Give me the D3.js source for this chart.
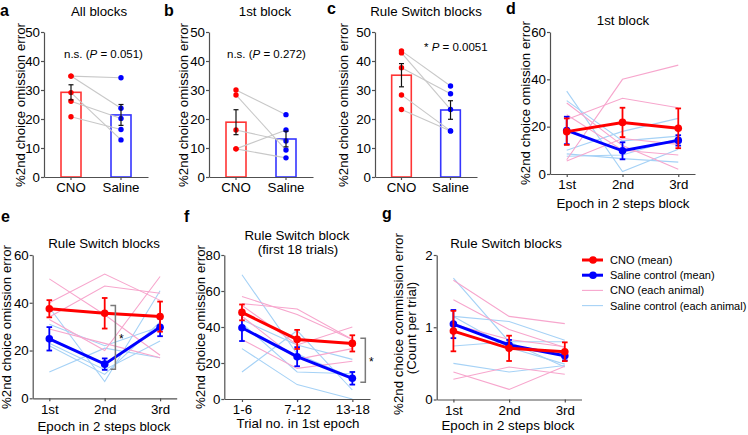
<!DOCTYPE html>
<html><head><meta charset="utf-8">
<script src="https://cdn.jsdelivr.net/npm/d3@7"></script>
<style>
body{margin:0;background:#fff;}
svg text{font-family:"Liberation Sans",Arial,Helvetica,sans-serif;fill:#000;}
</style></head><body>
<svg id="c" width="748" height="435"></svg>
<script>
// ---------------- DATA ----------------
const barCats = ["CNO", "Saline"];
const barTicks = [0, 10, 20, 30, 40, 50];
// panel a (All blocks) — paired animals, index i = same animal
const aCNO = [34.8, 34.8, 29.1, 26.1, 20.8];
const aSal = [34.2, 23.7, 12.8, 20.2, 16.4];
const aMean = [29.2, 21.4];
const aSem = [2.6, 3.6];
// panel b (1st block)
const bCNO = [30.0, 28.3, 16.2, 9.7, 9.7];
const bSal = [21.5, 9.3, 12.4, 16.2, 6.6];
const bMean = [18.9, 13.1];
const bSem = [4.3, 2.7];
// panel c (Rule Switch blocks)
const cCNO = [43.5, 42.8, 37.7, 28.3, 23.3];
const cSal = [31.4, 23.3, 28.7, 15.9, 15.9];
const cMean = [35.1, 23.1];
const cSem = [4.0, 3.2];

const epochCats = ["1st", "2nd", "3rd"];
const trialCats = ["1-6", "7-12", "13-18"];
const omTicks60 = [0, 20, 40, 60];
const omTicks80 = [0, 20, 40, 60, 80];
const comTicks = [0, 1, 2];

// panel d (1st block)
const dCnoInd = [[6, 40, 46], [23, 32, 28], [30, 12, 2], [25, 10, 8], [5.5, 15, 12.5]];
const dSalInd = [[35, 1, 10.5], [31, 14, 16], [10, 18, 23.5], [8.5, 6.5, 5], [7.5, 8, 15]];
const dCnoMean = [17.9, 21.8, 19.3], dCnoSem = [5.6, 6.2, 8.4];
const dSalMean = [18.4, 9.8, 14.2], dSalSem = [5.8, 3.6, 2.2];
// panel e (Rule Switch blocks)
const eCnoInd = [[50, 35, 18], [40, 52, 41], [34, 47, 44], [29, 23, 17], [33, 20, 51]];
const eSalInd = [[11, 21, 17], [38, 7, 45], [31, 22, 30], [23, 12, 24], [22, 10, 32]];
const eCnoMean = [37.5, 35.6, 34.2], eCnoSem = [3.6, 6.4, 6.3];
const eSalMean = [24.9, 14.3, 29.7], eSalSem = [4.9, 2.4, 3.7];
const eBracket = [38.9, 12.2];
// panel f (Rule Switch block, first 18 trials)
const fCnoInd = [[57, 47, 33], [53, 50, 33], [52, 30, 40], [46, 22, 28], [33, 17, 21]];
const fSalInd = [[69, 25, 12], [15, 38, 5], [28, 8, 0], [44, 30, 22], [42, 15, 14]];
const fCnoMean = [48.1, 33.1, 30.9], fCnoSem = [4.4, 5.3, 4.5];
const fSalMean = [39.6, 23.5, 11.5], fSalSem = [7.4, 5.3, 3.5];
const fBracket = [33.7, 9.3];
// panel g (commission error)
const gCnoInd = [[1.65, 1.15, 1.05], [1.38, 0.97, 0.72], [0.38, 0.14, 0.46], [0.28, 0.45, 0.35], [1.04, 0.83, 0.73]];
const gSalInd = [[1.68, 0.8, 0.45], [1.15, 1.08, 0.82], [0.74, 0.8, 0.8], [0.5, 0.38, 0.47], [1.15, 0.72, 0.49]];
const gCnoMean = [0.947, 0.708, 0.661], gCnoSem = [0.28, 0.175, 0.13];
const gSalMean = [1.044, 0.754, 0.606], gSalSem = [0.195, 0.07, 0.065];

const legendLabels = ["CNO (mean)", "Saline control (mean)", "CNO (each animal)", "Saline control (each animal)"];

// ---------------- DRAWING ----------------
const FF = '"Liberation Sans",Arial,Helvetica,sans-serif';
const RED = "#ff0000", BLUE = "#0000ff", PINK = "#f7a6cd", LBLUE = "#a6d2f6", AX = "#505050";
const FS = 13.3;
const svg = d3.select("#c");

function styleAxis(g) {
  g.selectAll("path,line").attr("stroke", AX).attr("stroke-width", 1.2);
  g.selectAll("text").attr("font-size", FS).attr("fill", "#000").attr("font-family", FF);
}
function txt(x, y, s, opt = {}) {
  const t = svg.append("text").attr("x", x).attr("y", y).text(s)
    .attr("font-size", opt.size || FS).attr("text-anchor", opt.anchor || "middle");
  if (opt.bold) t.attr("font-weight", "bold");
  return t;
}
function vlabel(bx, yc, s) {
  svg.append("text").attr("transform", `translate(${bx},${yc}) rotate(-90)`)
    .attr("text-anchor", "middle").attr("font-size", FS).text(s);
}

function barPanel(p) {
  const g = svg.append("g");
  const x = d3.scaleBand().domain(barCats).range([p.x0, p.x1]).paddingInner(0.6).paddingOuter(0.34);
  const y = d3.scaleLinear().domain([0, 50]).range([p.yb, p.yt]);
  const cx = c => x(c) + x.bandwidth() / 2;
  g.selectAll("rect").data(barCats).join("rect")
    .attr("x", d => x(d)).attr("width", x.bandwidth())
    .attr("y", (d, i) => y(p.mean[i])).attr("height", (d, i) => y(0) - y(p.mean[i]))
    .attr("fill", "#fff").attr("stroke", (d, i) => i ? "#3535ff" : "#ff3535").attr("stroke-width", 1.6);
  g.selectAll(".pl").data(d3.range(p.cno.length)).join("line")
    .attr("x1", cx("CNO")).attr("x2", cx("Saline"))
    .attr("y1", i => y(p.cno[i])).attr("y2", i => y(p.sal[i]))
    .attr("stroke", "#c8c8c8").attr("stroke-width", 1.1);
  g.selectAll(".dc").data(p.cno).join("circle").attr("cx", cx("CNO")).attr("cy", d => y(d)).attr("r", 2.7).attr("fill", RED);
  g.selectAll(".ds").data(p.sal).join("circle").attr("cx", cx("Saline")).attr("cy", d => y(d)).attr("r", 2.7).attr("fill", BLUE);
  barCats.forEach((c, i) => {
    const hi = y(p.mean[i] + p.sem[i]), lo = y(p.mean[i] - p.sem[i]), xc = cx(c);
    g.append("line").attr("x1", xc).attr("x2", xc).attr("y1", hi).attr("y2", lo).attr("stroke", "#111").attr("stroke-width", 1.2);
    [hi, lo].forEach(yy => g.append("line").attr("x1", xc - 2.5).attr("x2", xc + 2.5).attr("y1", yy).attr("y2", yy).attr("stroke", "#111").attr("stroke-width", 1.2));
  });
  g.append("g").attr("transform", `translate(${p.x0},0)`)
    .call(d3.axisLeft(y).tickValues(barTicks).tickSize(3).tickPadding(1).tickSizeOuter(0)).call(styleAxis);
  g.append("g").attr("transform", `translate(0,${p.yb})`)
    .call(d3.axisBottom(x).tickSize(3).tickPadding(3).tickSizeOuter(0)).call(styleAxis);
}

function linePanel(p) {
  const g = svg.append("g");
  const x = d3.scalePoint().domain(p.cats).range([p.x0, p.x1]).padding(p.pad);
  const y = d3.scaleLinear().domain([0, p.ymax]).range([p.yb, p.yt]);
  const line = d3.line().x((d, i) => x(p.cats[i])).y(d => y(d));
  g.selectAll(".ib").data(p.salInd).join("path").attr("d", line).attr("fill", "none").attr("stroke", LBLUE).attr("stroke-width", 1.1);
  g.selectAll(".ip").data(p.cnoInd).join("path").attr("d", line).attr("fill", "none").attr("stroke", PINK).attr("stroke-width", 1.1);
  function series(m, s, col) {
    g.append("path").datum(m).attr("d", line).attr("fill", "none").attr("stroke", col).attr("stroke-width", 3);
    m.forEach((v, i) => {
      const xc = x(p.cats[i]), hi = y(v + s[i]), lo = y(v - s[i]);
      g.append("line").attr("x1", xc).attr("x2", xc).attr("y1", hi).attr("y2", lo).attr("stroke", col).attr("stroke-width", 1.8);
      [hi, lo].forEach(yy => g.append("line").attr("x1", xc - 2.8).attr("x2", xc + 2.8).attr("y1", yy).attr("y2", yy).attr("stroke", col).attr("stroke-width", 1.8));
      g.append("circle").attr("cx", xc).attr("cy", y(v)).attr("r", 3.8).attr("fill", col);
    });
  }
  series(p.salMean, p.salSem, BLUE);
  series(p.cnoMean, p.cnoSem, RED);
  g.append("g").attr("transform", `translate(${p.x0},0)`)
    .call(d3.axisLeft(y).tickValues(p.ticks).tickFormat(d3.format("d")).tickSize(3).tickPadding(1).tickSizeOuter(0)).call(styleAxis);
  g.append("g").attr("transform", `translate(0,${p.yb})`)
    .call(d3.axisBottom(x).tickSize(3).tickPadding(3).tickSizeOuter(0)).call(styleAxis);
  if (p.bracket) {
    const bx = x(p.cats[p.bracketAt]) + p.bracketDx, y1 = y(p.bracket[0]), y2 = y(p.bracket[1]);
    g.append("path").attr("d", `M${bx - 5},${y1}H${bx}V${y2}H${bx - 5}`).attr("fill", "none").attr("stroke", "#7a7a7a").attr("stroke-width", 1.5);
    g.append("text").attr("x", bx + 6).attr("y", (y1 + y2) / 2 + 6).attr("text-anchor", "middle").attr("font-size", 12).text("*");
  }
}

// ---- top row ----
barPanel({ x0: 44, x1: 148, yb: 177, yt: 32, cno: aCNO, sal: aSal, mean: aMean, sem: aSem });
barPanel({ x0: 209, x1: 313, yb: 177, yt: 32, cno: bCNO, sal: bSal, mean: bMean, sem: bSem });
barPanel({ x0: 375, x1: 477, yb: 177, yt: 32, cno: cCNO, sal: cSal, mean: cMean, sem: cSem });
linePanel({ x0: 550, x1: 695, pad: 0.3, yb: 174, yt: 32, ymax: 60, ticks: omTicks60, cats: epochCats,
  cnoInd: dCnoInd, salInd: dSalInd, cnoMean: dCnoMean, cnoSem: dCnoSem, salMean: dSalMean, salSem: dSalSem });

// ---- bottom row ----
linePanel({ x0: 32.7, x1: 176.7, pad: 0.3, yb: 398.3, yt: 255, ymax: 60, ticks: omTicks60, cats: epochCats,
  cnoInd: eCnoInd, salInd: eSalInd, cnoMean: eCnoMean, cnoSem: eCnoSem, salMean: eSalMean, salSem: eSalSem,
  bracket: eBracket, bracketAt: 1, bracketDx: 10.7 });
linePanel({ x0: 224.3, x1: 370, pad: 0.32, yb: 399, yt: 255, ymax: 80, ticks: omTicks80, cats: trialCats,
  cnoInd: fCnoInd, salInd: fSalInd, cnoMean: fCnoMean, cnoSem: fCnoSem, salMean: fSalMean, salSem: fSalSem,
  bracket: fBracket, bracketAt: 2, bracketDx: 13 });
linePanel({ x0: 436.7, x1: 581.5, pad: 0.3, yb: 399.5, yt: 255, ymax: 2, ticks: comTicks, cats: epochCats,
  cnoInd: gCnoInd, salInd: gSalInd, cnoMean: gCnoMean, cnoSem: gCnoSem, salMean: gSalMean, salSem: gSalSem });

// ---- titles ----
txt(99, 16, "All blocks");
txt(265, 16, "1st block");
txt(426, 16, "Rule Switch blocks");
txt(623, 25, "1st block");
txt(104, 248, "Rule Switch blocks");
txt(297, 240, "Rule Switch block");
txt(298, 254, "(first 18 trials)");
txt(506, 248, "Rule Switch blocks");

// ---- axis titles ----
vlabel(24.5, 105, "%2nd choice omission error");
vlabel(188, 105, "%2nd choice omission error");
vlabel(348, 105, "%2nd choice omission error");
vlabel(530, 103, "%2nd choice omission error");
vlabel(10.5, 327, "%2nd choice omission error");
vlabel(205, 327, "%2nd choice omission error");
vlabel(403, 324, "%2nd choice commission error");
vlabel(416, 328, "(Count per trial)");
txt(623, 208, "Epoch in 2 steps block");
txt(104, 431, "Epoch in 2 steps block");
txt(298, 428, "Trial no. in 1st epoch");
txt(508, 430, "Epoch in 2 steps block");

// ---- annotations ----
function annot(x, y, pre, post) {
  const t = svg.append("text").attr("x", x).attr("y", y).attr("font-size", 11.5).attr("text-anchor", "start");
  t.append("tspan").text(pre);
  t.append("tspan").attr("font-style", "italic").text("P");
  t.append("tspan").text(post);
}
annot(64, 57.5, "n.s. (", " = 0.051)");
annot(227, 57.5, "n.s. (", " = 0.272)");
annot(424, 51, "* ", " = 0.0051");

// ---- panel letters ----
[["a", 0, 16], ["b", 164, 16], ["c", 327, 14], ["d", 506, 14], ["e", 1, 222], ["f", 184, 222], ["g", 382, 219]]
  .forEach(([l, x, y]) => txt(x, y, l, { bold: true, size: 16, anchor: "start" }));

// ---- legend ----
const lg = svg.append("g");
const legCols = [RED, BLUE, PINK, LBLUE];
legendLabels.forEach((s, i) => {
  const yy = 260 + i * 15.2;
  lg.append("line").attr("x1", 582).attr("x2", 603).attr("y1", yy).attr("y2", yy)
    .attr("stroke", legCols[i]).attr("stroke-width", i < 2 ? 3 : 1.1);
  if (i < 2) lg.append("circle").attr("cx", 593).attr("cy", yy).attr("r", 3.8).attr("fill", legCols[i]);
  lg.append("text").attr("x", 610).attr("y", yy + 4).attr("font-size", 11).attr("text-anchor", "start").text(s);
});
</script></body></html>
